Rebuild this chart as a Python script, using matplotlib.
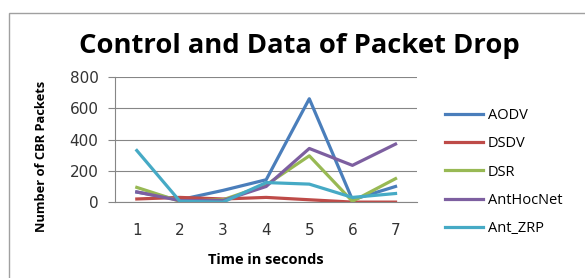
import matplotlib
matplotlib.use("Agg")
import matplotlib.pyplot as plt
from matplotlib.patches import Rectangle

times = [1, 2, 3, 4, 5, 6, 7]
aodv = [64, 15, 75, 143, 661, 15, 100]
dsdv = [20, 30, 20, 30, 15, 0, 0]
dsr = [94, 5, 15, 110, 296, 5, 150]
anthocnet = [65, 10, 10, 100, 343, 235, 371]
ant_zrp = [330, 5, 0, 125, 115, 30, 55]

series = [("AODV", aodv, "#4a7ebb"),
          ("DSDV", dsdv, "#be4b48"),
          ("DSR", dsr, "#98b954"),
          ("AntHocNet", anthocnet, "#7d5fa0"),
          ("Ant_ZRP", ant_zrp, "#46aac5")]

fig = plt.figure(figsize=(5.85, 2.78), dpi=100)
ax = fig.add_axes([0.197, 0.273, 0.516, 0.45])

for name, vals, col in series:
    ax.plot(times, vals, '-', color=col, linewidth=2.3, label=name)

ax.set_xlim(0.5, 7.5)
ax.set_ylim(0, 800)
ax.set_yticks([0, 200, 400, 600, 800])
ax.set_xticks(times)
ax.grid(axis='y', color='#868686', linewidth=0.8)
ax.set_axisbelow(True)
for s in ['top', 'right']:
    ax.spines[s].set_visible(False)
ax.spines['left'].set_color('#868686')
ax.spines['bottom'].set_color('#868686')
ax.tick_params(axis='y', length=5, color='#868686', labelsize=11, pad=7, labelcolor='#333333')
ax.tick_params(axis='x', length=0, labelsize=11, pad=15, labelcolor='#333333')

ax.set_xlabel("Time in seconds", fontsize=10.5, fontweight='bold', family='Open Sans', labelpad=11)
ax.set_ylabel("Number of CBR Packets", fontsize=9.3, fontweight='bold', family='Open Sans')
ax.yaxis.set_label_coords(-0.222, 0.368)
fig.text(0.512, 0.835, "Control and Data of Packet Drop", ha='center', va='center',
         fontsize=19.7, fontweight='bold', family='Open Sans')

ax.legend(loc='center left', bbox_to_anchor=(1.05, 0.24), frameon=False,
          prop={'family': 'Open Sans', 'size': 10.5}, handlelength=2.6,
          labelspacing=0.9, handletextpad=0.3)

fig.patches.append(Rectangle((9 / 585, -0.05), 1.0, 1.05 - 13 / 278, transform=fig.transFigure,
                             fill=False, edgecolor='#a0a0a0', linewidth=1))

plt.savefig("out.png", dpi=100)
